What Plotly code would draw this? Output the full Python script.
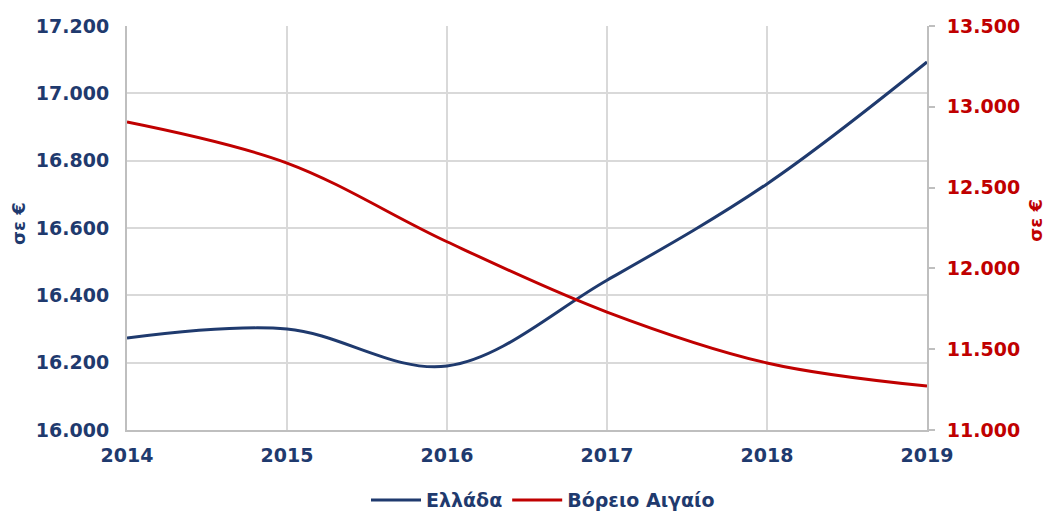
import plotly.graph_objects as go

years = [2014, 2015, 2016, 2017, 2018, 2019]
greece = [16273, 16300, 16190, 16445, 16731, 17093]
north_aegean = [12906, 12652, 12165, 11730, 11415, 11272]
left_ticks = [16000, 16200, 16400, 16600, 16800, 17000, 17200]
right_ticks = [11000, 11500, 12000, 12500, 13000, 13500]

NAVY = "#1F3A6E"
RED = "#C00000"
GRID = "#D9D9D9"
AXIS = "#BFBFBF"
FONT = "DejaVu Sans"
FS = 19

fig = go.Figure()
fig.add_trace(go.Scatter(x=years, y=greece, name="Ελλάδα", mode="lines",
                         line=dict(color=NAVY, width=3, shape="spline", smoothing=1.0)))
fig.add_trace(go.Scatter(x=years, y=north_aegean, name="Βόρειο Αιγαίο", mode="lines",
                         line=dict(color=RED, width=3, shape="spline", smoothing=1.0),
                         yaxis="y2"))

fig.update_layout(
    width=1048, height=514,
    margin=dict(l=127, r=121, t=26, b=84),
    plot_bgcolor="white", paper_bgcolor="white",
    separators=",.",
    font=dict(family=FONT, size=FS, color=NAVY),
    xaxis=dict(range=[2014, 2019], tickvals=years, showgrid=True, gridcolor=GRID, gridwidth=2,
               showline=True, linecolor=AXIS, linewidth=2, zeroline=False, automargin=False,
               tickfont=dict(family=FONT, size=FS, color=NAVY, weight="bold"),
               ticks="outside", ticklen=7, tickcolor="rgba(0,0,0,0)"),
    yaxis=dict(range=[16000, 17200], tickvals=left_ticks, tickformat=",.0f",
               showgrid=True, gridcolor=GRID, gridwidth=2, zeroline=False, automargin=False,
               showline=True, linecolor=AXIS, linewidth=2,
               tickfont=dict(family=FONT, size=FS, color=NAVY, weight="bold"),
               ticks="outside", ticklen=12, tickcolor="rgba(0,0,0,0)"),
    yaxis2=dict(range=[11000, 13500], tickvals=right_ticks, tickformat=",.0f",
                overlaying="y", side="right", showgrid=False, zeroline=False, automargin=False,
                showline=True, linecolor=AXIS, linewidth=2,
                ticks="outside", ticklen=6, tickcolor=AXIS, tickwidth=2, ticklabelstandoff=8,
                tickfont=dict(family=FONT, size=FS, color=RED, weight="bold")),
    legend=dict(orientation="h", x=0.52, xanchor="center", xref="paper",
                yref="container", y=0.027, yanchor="middle",
                font=dict(family=FONT, size=FS, color=NAVY, weight="bold"),
                itemwidth=50),
    showlegend=True,
    annotations=[
        dict(text="σε €", xref="paper", yref="paper", x=-0.135, y=0.51, textangle=-90,
             showarrow=False, font=dict(family=FONT, size=18, color=NAVY, weight="bold"),
             xanchor="center", yanchor="middle"),
        dict(text="σε €", xref="paper", yref="paper", x=1.136, y=0.52, textangle=-90,
             showarrow=False, font=dict(family=FONT, size=18, color=RED, weight="bold"),
             xanchor="center", yanchor="middle"),
    ],
)

fig.write_html("out.html", config={"displayModeBar": False},
               post_script="document.body.style.margin='0';document.body.style.padding='0';")
